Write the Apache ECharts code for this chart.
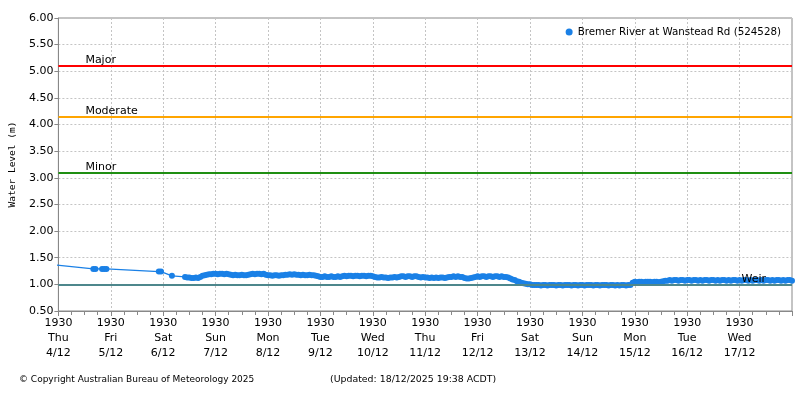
<!DOCTYPE html>
<html><head><meta charset="utf-8">
<script src="https://cdn.jsdelivr.net/npm/echarts@6/dist/echarts.min.js"></script>
<style>html,body{margin:0;padding:0;background:#fff}#c{width:800px;height:400px}</style>
</head><body><div id="c"></div>
<script>
// x axis: hours since Thu 4/12 19:30
const tickLabels = ['1930\nThu\n4/12','1930\nFri\n5/12','1930\nSat\n6/12','1930\nSun\n7/12','1930\nMon\n8/12','1930\nTue\n9/12','1930\nWed\n10/12','1930\nThu\n11/12','1930\nFri\n12/12','1930\nSat\n13/12','1930\nSun\n14/12','1930\nMon\n15/12','1930\nTue\n16/12','1930\nWed\n17/12'];
const seriesName = 'Bremer River at Wanstead Rd (524528)';
// sparse early readings
const earlyHours = [-2,16,17,20,21,22,46,47,52];
const earlyLevels = [1.365,1.29,1.29,1.29,1.29,1.29,1.24,1.24,1.16];
// hourly readings from hour 58 onward
const hourlyStart = 58;
const hourlyLevels = [
1.14,1.13,1.13,1.12,1.12,1.13,1.12,1.14,1.16,1.17,1.18,1.19,1.19,1.20,
1.20,1.19,1.20,1.20,1.19,1.20,1.19,1.18,1.17,1.18,1.17,1.17,1.18,1.17,1.17,1.18,1.19,1.20,1.19,1.20,1.20,1.19,1.20,1.18,
1.17,1.17,1.16,1.17,1.17,1.16,1.17,1.17,1.18,1.18,1.19,1.18,1.19,1.18,1.18,1.17,1.18,1.17,1.17,1.18,1.17,1.17,1.16,1.15,
1.14,1.14,1.15,1.14,1.14,1.15,1.14,1.14,1.15,1.14,1.15,1.16,1.15,1.16,1.16,1.15,1.16,1.16,1.15,1.16,1.16,1.15,1.16,1.16,
1.15,1.14,1.13,1.13,1.14,1.13,1.13,1.12,1.13,1.13,1.14,1.13,1.14,1.15,1.15,1.14,1.15,1.15,1.14,1.15,1.15,1.14,1.13,1.14,
1.13,1.13,1.12,1.13,1.12,1.13,1.12,1.13,1.13,1.12,1.13,1.14,1.14,1.15,1.14,1.15,1.14,1.14,1.12,1.11,1.11,1.12,1.13,1.14,
1.15,1.14,1.15,1.15,1.14,1.15,1.15,1.14,1.15,1.15,1.14,1.15,1.14,1.14,1.13,1.11,1.09,1.08,1.06,1.05,1.03,1.02,1.01,1.00,
1.00,0.99,0.99,0.99,0.99,0.98,0.99,0.99,0.98,0.99,0.99,0.99,0.98,0.99,0.99,0.98,0.99,0.99,0.99,0.98,0.99,0.99,0.98,0.99,
0.99,0.98,0.99,0.99,0.99,0.98,0.99,0.99,0.98,0.99,0.99,0.99,0.98,0.99,0.99,0.98,0.99,0.98,0.99,0.99,0.98,0.99,0.99,1.03,
1.05,1.04,1.05,1.05,1.04,1.05,1.05,1.05,1.04,1.05,1.05,1.04,1.05,1.06,1.07,1.07,1.08,1.07,1.08,1.08,1.07,1.08,1.08,1.07,
1.08,1.08,1.07,1.08,1.08,1.07,1.08,1.07,1.08,1.08,1.07,1.08,1.08,1.07,1.08,1.07,1.08,1.08,1.07,1.08,1.07,1.08,1.08,1.07,
1.08,1.07,1.08,1.08,1.07,1.08,1.07,1.08,1.08,1.07,1.08,1.07,1.08,1.08,1.07,1.08,1.07,1.08,1.08,1.07,1.08,1.07,1.08,1.08,1.07];
const thresholdNames = ['Major','Moderate','Minor','Weir'];
const thresholdValues = [5.1,4.15,3.1,1.0];
const thresholdColors = ['#ff0000','#ffa500','#1f8f12','#4d878c'];

const FONT = 'DejaVu Sans';
const seriesData = earlyHours.map((h,i)=>[h,earlyLevels[i]])
  .concat(hourlyLevels.map((v,i)=>[hourlyStart+i,v]));
const chart = echarts.init(document.getElementById('c'), null, {renderer:'canvas'});
const markData = thresholdNames.map((n,i)=>({
  name:n, yAxis:thresholdValues[i],
  lineStyle:{color:thresholdColors[i], width:2, type:'solid'},
  label:{show:true, formatter:n, position: n==='Weir' ? 'insideEndTop' : 'insideStartTop',
         distance: n==='Weir' ? [26,0] : [27,0], color:'#000', fontFamily:FONT, fontSize:11}
}));
chart.setOption({
  animation:false,
  backgroundColor:'#fff',
  grid:{left:57, right:8, top:18, bottom:89, show:true, borderColor:'#888', borderWidth:1, backgroundColor:'transparent'},
  legend:{data:[seriesName], right:14, top:22, icon:'circle', itemWidth:7, itemHeight:7, itemGap:5,
          textStyle:{fontFamily:FONT, fontSize:10.3, color:'#000'}},
  xAxis:{type:'value', min:0, max:336, interval:24,
    axisLine:{lineStyle:{color:'#888'}},
    axisTick:{show:true, length:5, lineStyle:{color:'#888'}},
    minorTick:{show:true, splitNumber:4, length:4, lineStyle:{color:'#888'}},
    splitLine:{show:true, lineStyle:{color:'#c4c4c4', type:[2,2]}},
    axisLabel:{margin:5, lineHeight:15, color:'#000', fontFamily:FONT, fontSize:11,
      formatter:v=>{const i=Math.round(v/24); return tickLabels[i]||'';}}
  },
  yAxis:{type:'value', min:0.5, max:6, interval:0.5, name:'Water Level (m)', nameLocation:'middle', nameGap:36,
    nameTextStyle:{fontFamily:'DejaVu Sans Mono', fontSize:9.5, color:'#000'},
    axisLine:{show:true, lineStyle:{color:'#888'}},
    axisTick:{show:true, length:4, lineStyle:{color:'#888'}},
    splitLine:{show:true, lineStyle:{color:'#c4c4c4', type:[2,2]}},
    axisLabel:{margin:5, color:'#000', fontFamily:FONT, fontSize:11, formatter:v=>v.toFixed(2)}
  },
  series:[{
    name:seriesName, type:'line', data:seriesData,
    symbol:'circle', symbolSize:6, showAllSymbol:true, clip:true,
    itemStyle:{color:'#1a80e6'}, lineStyle:{color:'#1a80e6', width:1.2},
    markLine:{silent:true, symbol:'none', data:markData},
    z:3
  }],
  graphic:[
    {type:'text', left:19, top:375, style:{text:'© Copyright Australian Bureau of Meteorology 2025', font:'9px "DejaVu Sans"', fill:'#000'}},
    {type:'text', left:330, top:375, style:{text:'(Updated: 18/12/2025 19:38 ACDT)', font:'9.4px "DejaVu Sans"', fill:'#000'}}
  ]
});
</script></body></html>
